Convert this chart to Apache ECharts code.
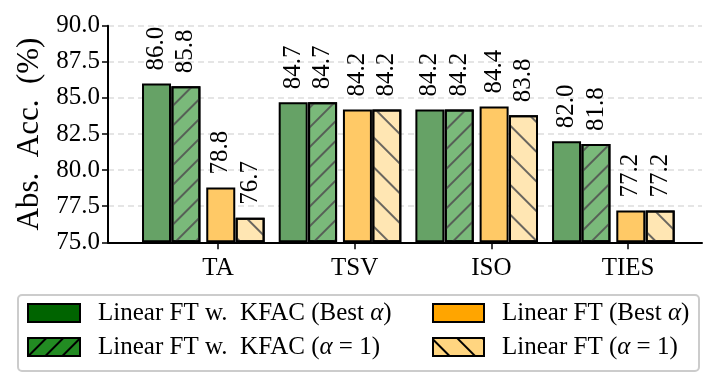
<!DOCTYPE html>
<html>
<head>
<meta charset="utf-8">
<script src="https://cdn.jsdelivr.net/npm/echarts@6/dist/echarts.min.js"></script>
<style>html,body{margin:0;padding:0;background:#fff}#c{width:718px;height:388px}</style>
</head>
<body>
<div id="c"></div>
<script>
// ---- data ----
const categories = ['TA', 'TSV', 'ISO', 'TIES'];
const kfacBest = [86.0, 84.7, 84.2, 82.0];
const kfacOne  = [85.8, 84.7, 84.2, 81.8];
const linBest  = [78.8, 84.2, 84.4, 77.2];
const linOne   = [76.7, 84.2, 83.8, 77.2];
const yMin = 75.0, yMax = 90.0, yStep = 2.5;
const seriesNames = [
  'Linear FT w.  KFAC (Best α)',
  'Linear FT w.  KFAC (α = 1)',
  'Linear FT (Best α)',
  'Linear FT (α = 1)'
];

// ---- layout / style ----
const FONT = 'Liberation Serif';
const offsets = [-0.45, -0.235, 0.02, 0.235];
const barColors = ['#66a266', '#7ab97a', '#ffc966', '#ffe6b3'];
const legendColors = ['#006400', '#228B22', '#FFA500', '#FFD580'];
const hatch = [null, {dir: -1, gap: 11.5}, null, {dir: 1, gap: 19}];

function decal(h, color) {
  if (!h) return null;
  return {
    symbol: 'rect', symbolSize: 1,
    dashArrayX: [1, 0], dashArrayY: [2, h.gap],
    rotation: h.dir * Math.PI / 4,
    color: color
  };
}

const allValues = [kfacBest, kfacOne, linBest, linOne];
const series = allValues.map((vals, s) => ({
  name: seriesNames[s],
  type: 'bar',
  barWidth: 29,
  barGap: '-100%',
  data: vals.map((v, i) => [i + offsets[s], v]),
  itemStyle: {
    color: barColors[s],
    borderColor: '#000',
    borderWidth: 2,
    decal: decal(hatch[s], 'rgba(80,80,80,0.85)')
  },
  label: {
    show: true,
    position: 'top',
    rotate: 90,
    align: 'left',
    verticalAlign: 'middle',
    distance: 11,
    offset: [2, 0],
    fontFamily: FONT,
    fontSize: 25,
    color: '#000',
    formatter: p => p.value[1].toFixed(1)
  }
}));

function legendItem(s) {
  return {
    name: seriesNames[s],
    itemStyle: {
      color: legendColors[s],
      borderColor: '#000',
      borderWidth: 2,
      opacity: 1,
      decal: decal(hatch[s] ? {dir: hatch[s].dir, gap: hatch[s].gap * 0.8} : null, '#000')
    }
  };
}

const legendText = {
  fontFamily: FONT, fontSize: 25, color: '#000', lineHeight: 25,
  padding: [0, 0, 0, 13],
  rich: { a: { fontFamily: FONT, fontSize: 25, fontStyle: 'italic', color: '#000' } }
};
const legendFmt = n => n.replace('α', '{a|α}');

const option = {
  animation: false,
  backgroundColor: '#fff',
  grid: { left: 108, right: 16, top: 25.7, bottom: 145.7, outerBoundsMode: 'none', containLabel: false },
  graphic: [{
    type: 'rect', z: -1,
    shape: { x: 18, y: 295, width: 681, height: 76, r: 4 },
    style: { fill: '#fff', stroke: '#cccccc', lineWidth: 2 }
  }],
  legend: [
    {
      orient: 'vertical', left: 27, top: 300.5, padding: 0,
      itemWidth: 52, itemHeight: 18, itemGap: 9,
      icon: 'rect', data: [legendItem(0), legendItem(1)],
      textStyle: legendText, formatter: legendFmt
    },
    {
      orient: 'vertical', left: 432, top: 300.5, padding: 0,
      itemWidth: 51, itemHeight: 18, itemGap: 9,
      icon: 'rect', data: [legendItem(2), legendItem(3)],
      textStyle: legendText, formatter: legendFmt
    }
  ],
  xAxis: {
    type: 'value',
    min: -0.805, max: 3.541,
    axisLine: { show: true, onZero: false, lineStyle: { color: '#000', width: 2 } },
    axisTick: { show: true, length: 7, customValues: [0, 1, 2, 3], lineStyle: { color: '#000', width: 1.5 } },
    axisLabel: {
      customValues: [0, 1, 2, 3],
      formatter: v => categories[Math.round(v)],
      fontFamily: FONT, fontSize: 25, color: '#000', margin: 14
    },
    splitLine: { show: false }
  },
  yAxis: {
    type: 'value',
    min: yMin, max: yMax, interval: yStep,
    startValue: yMin,
    name: 'Abs.  Acc.  (%)',
    nameLocation: 'middle',
    nameGap: 62,
    nameTextStyle: { fontFamily: FONT, fontSize: 31, color: '#000' },
    axisLine: { show: true, onZero: false, lineStyle: { color: '#000', width: 2 } },
    axisTick: { show: true, length: 6, lineStyle: { color: '#000', width: 1.5 } },
    axisLabel: {
      formatter: v => v.toFixed(1),
      fontFamily: FONT, fontSize: 25, color: '#000', margin: 8
    },
    splitLine: { show: true, lineStyle: { color: '#dddddd', width: 1.5, type: [6, 4] } }
  },
  series: series
};

const chart = echarts.init(document.getElementById('c'), null, { renderer: 'canvas' });
chart.setOption(option);
</script>
</body>
</html>
